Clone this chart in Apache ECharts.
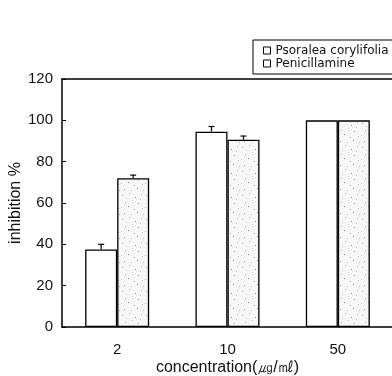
<!DOCTYPE html>
<html>
<head>
<meta charset="utf-8">
<script src="https://cdn.jsdelivr.net/npm/echarts@6/dist/echarts.min.js"></script>
<style>
html,body{margin:0;padding:0;background:#fff;}
#c{width:392px;height:376px;}
</style>
</head>
<body>
<div id="c"></div>
<script>
const categories = ['2', '10', '50'];
const seriesNames = ['Psoralea corylifolia', 'Penicillamine'];
const psoralea = [37.5, 94.5, 100];
const psoraleaErr = [2.5, 2.5, 0];
const penicillamine = [72, 90.6, 100];
const penicillamineErr = [1.5, 1.8, 0];
const yTicks = { min: 0, max: 120, interval: 20 };

const BAR_W = 32;
const FONT = '"Liberation Sans", Arial, sans-serif';

// stippled fill texture
function makePattern() {
  const cv = document.createElement('canvas');
  cv.width = 24; cv.height = 24;
  const ctx = cv.getContext('2d');
  ctx.fillStyle = '#f7f7f7';
  ctx.fillRect(0, 0, 24, 24);
  const dots = [[2,3,'#999'],[9,1,'#bbb'],[15,5,'#888'],[21,2,'#ccc'],[5,10,'#aaa'],[12,8,'#ccc'],
    [18,11,'#999'],[1,15,'#bbb'],[8,14,'#888'],[14,17,'#aaa'],[22,16,'#bbb'],[4,21,'#999'],
    [11,22,'#ccc'],[17,20,'#888'],[20,7,'#aaa'],[6,6,'#ccc'],[13,13,'#ddd'],[23,22,'#aaa']];
  dots.forEach(d => { ctx.fillStyle = d[2]; ctx.fillRect(d[0], d[1], 1, 1); });
  return cv;
}
const pattern = makePattern();

function errorSeries(values, errs, offset) {
  return {
    type: 'custom',
    silent: true,
    z: 5,
    data: values.map((v, i) => [i, v, errs[i]]),
    renderItem: function (params, api) {
      const e = api.value(2);
      if (!e) return null;
      const top = api.coord([api.value(0), api.value(1) + e]);
      const base = api.coord([api.value(0), api.value(1)]);
      const x = top[0] + offset;
      return {
        type: 'group',
        children: [
          { type: 'line', shape: { x1: x, y1: base[1], x2: x, y2: top[1] }, style: { stroke: '#000', lineWidth: 1.2 } },
          { type: 'line', shape: { x1: x - 3, y1: top[1], x2: x + 3, y2: top[1] }, style: { stroke: '#000', lineWidth: 1.2 } }
        ]
      };
    }
  };
}

const chart = echarts.init(document.getElementById('c'));
chart.setOption({
  animation: false,
  backgroundColor: '#fff',
  textStyle: { fontFamily: FONT },
  grid: { left: 62, top: 79, width: 331, height: 248, containLabel: false, outerBoundsMode: 'none' },
  legend: {
    orient: 'vertical',
    left: 253, top: 40,
    padding: [4, 60, 4, 10],
    itemGap: 0,
    itemWidth: 7, itemHeight: 7,
    borderColor: '#000', borderWidth: 1,
    icon: 'rect',
    textStyle: { fontFamily: '"DejaVu Sans", sans-serif', fontSize: 12, lineHeight: 13, color: '#111' },
    data: seriesNames.map(n => ({ name: n, itemStyle: { color: '#fff', borderColor: '#000', borderWidth: 1 } }))
  },
  xAxis: [{
    type: 'category',
    data: categories,
    position: 'bottom',
    axisLine: { lineStyle: { color: '#000', width: 1.5 } },
    axisTick: { show: false },
    axisLabel: { color: '#111', fontSize: 15, margin: 15, fontFamily: FONT },
    name: 'concentration(㎍/㎖)',
    nameLocation: 'middle',
    nameMoveOverlap: false,
    nameGap: 33,
    nameTextStyle: { color: '#111', fontSize: 16, fontFamily: FONT }
  }, {
    type: 'category',
    data: categories,
    position: 'top',
    axisLine: { lineStyle: { color: '#000', width: 1.5 } },
    axisTick: { show: false },
    axisLabel: { show: false }
  }],
  yAxis: {
    type: 'value',
    min: yTicks.min, max: yTicks.max, interval: yTicks.interval,
    axisLine: { show: true, lineStyle: { color: '#000', width: 1.5 } },
    axisTick: { show: true, inside: true, length: 4, lineStyle: { color: '#000' } },
    splitLine: { show: false },
    axisLabel: { color: '#111', fontSize: 15, margin: 9, fontFamily: FONT },
    name: 'inhibition %',
    nameLocation: 'middle',
    nameMoveOverlap: false,
    nameGap: 38,
    nameTextStyle: { color: '#111', fontSize: 16, fontFamily: FONT }
  },
  series: [
    {
      name: seriesNames[0], type: 'bar', barWidth: BAR_W, barGap: '0%',
      data: psoralea,
      itemStyle: { color: '#fff', borderColor: '#000', borderWidth: 1.3 }
    },
    {
      name: seriesNames[1], type: 'bar', barWidth: BAR_W, barGap: '0%',
      data: penicillamine,
      itemStyle: { color: { image: pattern, repeat: 'repeat' }, borderColor: '#000', borderWidth: 1.3 }
    },
    errorSeries(psoralea, psoraleaErr, -BAR_W / 2),
    errorSeries(penicillamine, penicillamineErr, BAR_W / 2)
  ]
});
</script>
</body>
</html>
